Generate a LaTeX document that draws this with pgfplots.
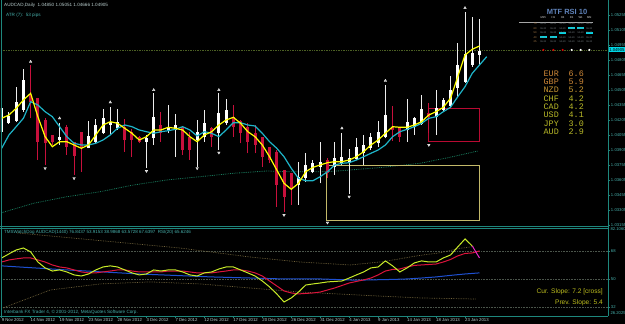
\documentclass[border=0pt]{standalone}
\usepackage{fontspec}
\setmainfont{Liberation Sans}
\setmonofont{Liberation Mono}
\usepackage{pgfplots}
\pgfplotsset{compat=1.18}
\usepackage{pgfplotstable}
\newcommand\fs[1]{\fontsize{#1}{#1}\selectfont}
\definecolor{mtteal}{RGB}{30,135,125}
\definecolor{tlabel}{RGB}{70,175,170}
\definecolor{dlabel}{RGB}{185,205,205}
\definecolor{crim}{RGB}{200,16,60}
\definecolor{maY}{RGB}{255,255,0}
\definecolor{maC}{RGB}{30,180,200}
\definecolor{maG}{RGB}{25,125,95}
\definecolor{bidline}{RGB}{75,95,35}
\definecolor{rectR}{RGB}{185,10,50}
\definecolor{rectY}{RGB}{195,185,105}
\definecolor{oscY}{RGB}{200,235,40}
\definecolor{oscR}{RGB}{220,20,60}
\definecolor{oscB}{RGB}{30,80,210}
\definecolor{oscM}{RGB}{230,40,200}
\definecolor{band}{RGB}{115,100,60}
\definecolor{lvl}{RGB}{75,85,75}
\definecolor{slope}{RGB}{190,190,30}
\definecolor{rsiT}{RGB}{95,130,185}
\definecolor{cyhl}{RGB}{0,215,230}
\definecolor{cellT}{RGB}{120,130,135}
\definecolor{curO}{RGB}{205,135,55}
\definecolor{curY}{RGB}{185,185,40}
\definecolor{fract}{RGB}{190,190,190}

\pgfplotstableread{
i o h l c
1 1.04088 1.04422 1.04072 1.04322
2 1.04172 1.04288 1.04165 1.04245
3 1.04198 1.04532 1.04188 1.04388
4 1.04305 1.04712 1.04288 1.04605
9 1.04005 1.04172 1.03955 1.04038
13 1.03922 1.04198 1.03922 1.04045
14 1.03988 1.04212 1.03978 1.04155
15 1.04072 1.04315 1.04065 1.04222
16 1.04155 1.04332 1.04055 1.04188
17 1.04122 1.04312 1.04105 1.04188
21 1.03988 1.04055 1.03722 1.04022
22 1.04022 1.04472 1.03955 1.04238
24 1.04105 1.04355 1.04072 1.04138
25 1.04105 1.04262 1.03838 1.04155
28 1.04005 1.04205 1.03738 1.04088
29 1.04038 1.04305 1.03988 1.04172
31 1.04072 1.04472 1.03905 1.04272
32 1.04172 1.04412 1.04155 1.04305
42 1.03555 1.03788 1.03355 1.03638
43 1.03622 1.03872 1.03588 1.03755
44 1.03688 1.03805 1.03672 1.03772
45 1.03738 1.03988 1.03572 1.03788
47 1.03738 1.03988 1.03655 1.03822
48 1.03772 1.04078 1.03755 1.03838
49 1.03788 1.03912 1.03465 1.03822
50 1.03812 1.04028 1.03805 1.03938
51 1.03872 1.04055 1.03755 1.03955
52 1.03922 1.04078 1.03905 1.04032
53 1.03972 1.04198 1.03938 1.04088
54 1.04032 1.04555 1.04022 1.04255
57 1.04105 1.04412 1.03988 1.04188
58 1.04138 1.04238 1.04055 1.04228
59 1.04165 1.04455 1.04155 1.04312
61 1.04232 1.04505 1.04055 1.04322
62 1.04305 1.04422 1.04288 1.04405
63 1.04345 1.04645 1.04322 1.04505
64 1.04522 1.04978 1.04422 1.04755
65 1.04588 1.05285 1.04578 1.04865
66 1.04755 1.05235 1.04738 1.04872
67 1.04855 1.05215 1.04755 1.04898
}\upTab

\pgfplotstableread{
i o h l c
5 1.04455 1.04755 1.04222 1.04388
6 1.04422 1.04422 1.03805 1.03988
7 1.04205 1.04222 1.03755 1.03972
8 1.04055 1.04055 1.03955 1.03988
10 1.04138 1.04155 1.03855 1.03938
11 1.03988 1.03988 1.03655 1.03845
12 1.04088 1.04088 1.03688 1.03922
18 1.04138 1.04212 1.03888 1.04005
19 1.04088 1.04112 1.03838 1.04005
20 1.04038 1.04045 1.03972 1.03988
23 1.04155 1.04288 1.03988 1.04072
26 1.04138 1.04138 1.03855 1.03905
27 1.04038 1.04088 1.03805 1.03905
30 1.04122 1.04138 1.03938 1.04038
33 1.04238 1.04355 1.04038 1.04138
34 1.04198 1.04205 1.03972 1.04072
35 1.04138 1.04172 1.03872 1.03988
36 1.04072 1.04155 1.03872 1.03955
37 1.04038 1.04038 1.03738 1.03838
38 1.03938 1.03938 1.03772 1.03805
39 1.03888 1.03905 1.03338 1.03555
40 1.03705 1.03705 1.03288 1.03438
41 1.03672 1.03672 1.03355 1.03522
46 1.03805 1.03822 1.03622 1.03672
55 1.04138 1.04345 1.03995 1.04105
56 1.04122 1.04122 1.03988 1.04038
60 1.04272 1.04378 1.04072 1.04232
}\downTab

\begin{document}
\begin{tikzpicture}
\fill[black] (0,0) rectangle (625pt,324pt);
\useasboundingbox (0,0) rectangle (625pt,324pt);

% ---------------- main price pane ----------------
\begin{axis}[
  at={(1pt,98pt)}, anchor=south west, scale only axis,
  width=607pt, height=225pt,
  xmin=0.907, xmax=84.75, ymin=1.03145, ymax=1.05395,
  axis line style={draw=none},
  xtick=\empty,
  ytick={1.05255,1.05105,1.04955,1.04805,1.04655,1.04505,1.04355,1.04205,1.04055,1.03905,1.03755,1.03605,1.03455,1.03305,1.03155},
  yticklabels={1.05255,1.05105,1.04955,1.04805,1.04655,1.04505,1.04355,1.04205,1.04055,1.03905,1.03755,1.03605,1.03455,1.03305,1.03155},
  ytick pos=right, yticklabel pos=right, tick align=outside,
  major tick length=2pt,
  tick style={mtteal, line width=0.6pt},
  yticklabel style={font=\fs{4.2}, text=tlabel, inner sep=0.8pt},
]
% bid line
\addplot[bidline, densely dotted, line width=0.7pt] coordinates {(0.907,1.04905) (84.75,1.04905)};
% slow MA (dotted green)
\addplot[maG, densely dotted, line width=0.8pt] coordinates {
(1,1.03278) (5.4,1.03372) (10,1.03438) (14.6,1.03488) (19.2,1.03555) (23.8,1.03605)
(28.4,1.03638) (33,1.03672) (37.6,1.03695) (40.8,1.03688) (45,1.03688) (46.8,1.03692)
(49.1,1.03705) (53.7,1.03732) (58.8,1.03772) (62.9,1.03832) (66.8,1.03895)};
% rectangles
\addplot[rectY, line width=0.8pt] coordinates {(45.9,1.03755) (67,1.03755) (67,1.03198) (45.9,1.03198) (45.9,1.03755)};
\addplot[rectR, line width=0.8pt] coordinates {(59.9,1.04322) (67,1.04322) (67,1.03995) (59.9,1.03995) (59.9,1.04322)};
% up candles: wick and body
\addplot[draw=none, mark=none, error bars/.cd, y dir=plus, y explicit, error mark=none,
  error bar style={draw=white!85!gray, line width=1pt}]
  table[x=i, y=l, y error expr=\thisrow{h}-\thisrow{l}] \upTab;
\addplot[draw=none, mark=none, error bars/.cd, y dir=plus, y explicit, error mark=none,
  error bar style={draw=white, line width=3pt}]
  table[x=i, y=o, y error expr=\thisrow{c}-\thisrow{o}] \upTab;
% down candles
\addplot[draw=none, mark=none, error bars/.cd, y dir=plus, y explicit, error mark=none,
  error bar style={draw=crim, line width=1pt}]
  table[x=i, y=l, y error expr=\thisrow{h}-\thisrow{l}] \downTab;
\addplot[draw=none, mark=none, error bars/.cd, y dir=plus, y explicit, error mark=none,
  error bar style={draw=crim, line width=3pt}]
  table[x=i, y=c, y error expr=\thisrow{o}-\thisrow{c}] \downTab;
% cyan MA
\addplot[maC, line width=1.2pt] coordinates {
(1,1.03922) (2,1.04055) (3,1.04138) (4,1.04222) (5,1.04388) (6,1.04355) (7,1.04288) (8,1.04238)
(9,1.04138) (10,1.04038) (11,1.03972) (12,1.03955) (13,1.03955) (14,1.03972) (15,1.04005) (16,1.04055)
(17,1.04122) (18,1.04155) (19,1.04138) (20,1.04105) (21,1.04088) (22,1.04072) (23,1.04088) (24,1.04098)
(25,1.04112) (26,1.04138) (27,1.04105) (28,1.04045) (29,1.04088) (30,1.04072) (31,1.04038) (32,1.04105)
(33,1.04178) (34,1.04178) (35,1.04155) (36,1.04145) (37,1.04072) (38,1.03988) (39,1.03922) (40,1.03838)
(41,1.03722) (42,1.03622) (43,1.03598) (44,1.03598) (45,1.03638) (46,1.03688) (47,1.03755) (48,1.03772)
(49,1.03778) (50,1.03805) (51,1.03838) (52,1.03872) (53,1.03905) (54,1.03955) (55,1.04038) (56,1.04088)
(57,1.04112) (58,1.04138) (59,1.04172) (60,1.04222) (61,1.04238) (62,1.04288) (63,1.04332) (64,1.04438)
(65,1.04538) (66,1.04672) (67,1.04755) (68,1.04838)};
% yellow MA
\addplot[maY, line width=1.2pt] coordinates {
(1,1.04222) (2,1.04255) (3,1.04322) (4,1.04405) (5,1.04472) (6,1.04238) (7,1.04038) (8,1.03938)
(9,1.03988) (10,1.03988) (11,1.03955) (12,1.03922) (13,1.03955) (14,1.04055) (15,1.04155) (16,1.04188)
(17,1.04172) (18,1.04122) (19,1.04072) (20,1.04005) (21,1.04038) (22,1.04105) (23,1.04105) (24,1.04132)
(25,1.04122) (26,1.04105) (27,1.04038) (28,1.03988) (29,1.04055) (30,1.04088) (31,1.04155) (32,1.04205)
(33,1.04232) (34,1.04172) (35,1.04088) (36,1.04038) (37,1.03955) (38,1.03838) (39,1.03705) (40,1.03572)
(41,1.03512) (42,1.03572) (43,1.03688) (44,1.03732) (45,1.03755) (46,1.03778) (47,1.03788) (48,1.03788)
(49,1.03805) (50,1.03838) (51,1.03888) (52,1.03955) (53,1.04005) (54,1.04072) (55,1.04138) (56,1.04132)
(57,1.04132) (58,1.04155) (59,1.04188) (60,1.04255) (61,1.04288) (62,1.04332) (63,1.04422) (64,1.04638)
(65,1.04855) (66,1.04912) (67,1.04945)};
% fractals
\addplot[only marks, mark=triangle*, mark size=1.5pt, mark options={fill=fract, draw=white, line width=0.3pt}]
 coordinates {(5,1.04788) (9,1.04222) (16,1.04382) (22,1.04505) (31,1.04505) (48,1.04122) (54,1.04598) (65,1.05325)};
\addplot[only marks, mark=triangle*, mark size=1.5pt, mark options={fill=fract, draw=white, line width=0.3pt, rotate=180}]
 coordinates {(7,1.03722) (11,1.03622) (21,1.03695) (28,1.03722) (31,1.03878) (40,1.03255) (46,1.03178) (49,1.03438) (60,1.03955)};
\end{axis}

% ---------------- oscillator pane ----------------
\begin{axis}[
  at={(1pt,8pt)}, anchor=south west, scale only axis,
  width=607pt, height=87pt,
  xmin=0.907, xmax=84.75, ymin=26.2, ymax=82.1,
  axis line style={draw=none},
  xtick={1,5,9,13,17,21,25,29,33,37,41,45,49,53,57,61,65},
  xticklabels={9 Nov 2012,14 Nov 2012,19 Nov 2012,23 Nov 2012,28 Nov 2012,3 Dec 2012,7 Dec 2012,12 Dec 2012,17 Dec 2012,20 Dec 2012,26 Dec 2012,31 Dec 2012,4 Jan 2013,9 Jan 2013,14 Jan 2013,18 Jan 2013,23 Jan 2013},
  xtick pos=left, ytick pos=right, yticklabel pos=right,
  tick align=outside, major tick length=2pt,
  tick style={mtteal, line width=0.6pt},
  xticklabel style={font=\fs{4.3}, text=dlabel, anchor=north west, inner sep=0.5pt, xshift=-0.6pt, yshift=0.6pt},
  ytick={32,50,68}, yticklabels={32,50,68},
  yticklabel style={font=\fs{4.2}, text=tlabel, inner sep=0.8pt},
]
\addplot[lvl, densely dotted, line width=0.6pt] coordinates {(0.907,68) (84.75,68)};
\addplot[lvl, densely dotted, line width=0.6pt] coordinates {(0.907,50) (84.75,50)};
\addplot[lvl, densely dotted, line width=0.6pt] coordinates {(0.907,32) (84.75,32)};
% bands
\addplot[band, densely dotted, line width=0.7pt] coordinates {
(3.1,79.6) (25.6,69.9) (35.3,64.1) (42.2,60.9) (49.1,59.0) (53.7,61.1) (58.3,64.8) (61.6,66.9) (64.3,69.7) (66.2,70.8)};
\addplot[band, densely dotted, line width=0.7pt] coordinates {
(1.2,31.4) (7.7,42.9) (14.6,46.8) (21.5,48.1) (28.4,46.8) (35.3,44.2) (42.2,41.6) (52.8,39.1) (58.8,37.8) (66.6,37.1)};
% blue
\addplot[oscB, line width=1pt] coordinates {
(1,58.4) (10,55.8) (20,53.2) (30,51.3) (40,50.0) (45,50.0) (50,49.2) (55,49.7) (57,50.0) (59,50.6) (61,51.3) (63,52.3) (65,53.2) (67,53.9)};
% red
\addplot[oscR, line width=1pt] coordinates {
(1,60.9) (2,62.2) (3,62.9) (4,63.5) (5,63.5) (6,62.2) (7,60.9) (8,59.0) (9,57.7) (10,57.1)
(11,55.8) (12,54.5) (13,53.9) (14,53.9) (15,54.5) (16,55.1) (17,55.8) (18,55.8) (19,55.1) (20,54.5)
(21,54.5) (22,54.5) (23,54.5) (24,55.1) (25,55.1) (26,55.1) (27,54.5) (28,53.9) (29,53.9) (30,53.9)
(31,54.5) (32,55.1) (33,55.8) (34,55.8) (35,55.1) (36,53.9) (37,51.9) (38,48.7) (39,45.5) (40,42.3)
(41,41.0) (42,40.4) (43,40.7) (44,41.0) (45,41.6) (46,42.9) (47,44.2) (48,45.8) (49,47.4) (50,48.4)
(51,49.4) (52,50.6) (53,52.6) (54,55.1) (55,56.1) (56,56.4) (57,57.7) (58,58.7) (59,59.0) (60,59.3)
(61,59.6) (62,60.9) (63,62.5) (64,64.8) (65,66.4) (66,66.7) (67,68.0)};
% yellow
\addplot[oscY, line width=1pt] coordinates {
(1,63.5) (2,66.1) (3,68.6) (4,69.9) (5,67.4) (6,60.9) (7,57.1) (8,55.1) (9,55.8) (10,54.5)
(11,52.6) (12,51.9) (13,53.2) (14,55.8) (15,57.7) (16,58.4) (17,57.7) (18,55.8) (19,53.9) (20,52.6)
(21,53.2) (22,55.8) (23,55.1) (24,55.8) (25,55.8) (26,54.5) (27,52.6) (28,51.9) (29,53.9) (30,54.5)
(31,56.4) (32,57.7) (33,57.7) (34,55.8) (35,53.9) (36,51.9) (37,48.7) (38,44.9) (39,40.4) (40,35.2)
(41,37.8) (42,41.6) (43,46.1) (44,46.8) (45,47.4) (46,48.1) (47,48.4) (48,48.7) (49,50.6) (50,52.6)
(51,54.5) (52,57.1) (53,57.7) (54,61.6) (55,58.4) (56,54.5) (57,57.1) (58,60.3) (59,61.6) (60,60.9)
(61,60.9) (62,63.5) (63,65.4) (64,70.6) (65,75.7) (66,71.2)};
\addplot[oscM, line width=1pt] coordinates {(66,71.2) (67,63.5)};
\end{axis}

% ---------------- frames ----------------
\draw[mtteal, line width=0.9pt] (1.2pt,324pt) -- (1.2pt,8pt);
\draw[mtteal, line width=0.9pt] (608pt,324pt) -- (608pt,8pt);
\draw[mtteal, line width=0.9pt] (0pt,8pt) -- (608pt,8pt);
\draw[mtteal, line width=0.8pt] (0pt,97.5pt) -- (608pt,97.5pt);
\draw[mtteal, line width=0.8pt] (0pt,95.3pt) -- (608pt,95.3pt);

% current price tag
\node[fill=cyhl, text=black, font=\fs{4.2}, inner sep=0.6pt, anchor=west, minimum height=5pt] at (608.5pt,274pt) {1.04905};

% ---------------- texts ----------------
\node[anchor=west, font=\fs{4.6}, text=dlabel, inner sep=0] at (4pt,319pt) {AUDCAD,Daily\ \ 1.04850 1.05051 1.04666 1.04905};
\node[anchor=west, font=\fs{4.6}, text=tlabel, inner sep=0] at (6pt,309pt) {ATR (7):\ \ 53 pips};
\node[anchor=west, font=\fs{4.5}, text=tlabel, inner sep=0] at (4pt,92pt) {TMSWatchDog AUDCAD(1440) 76.8437 53.9153 38.9868 63.5728 67.6397\ \ RSI(20) 65.6246};
\node[anchor=west, font=\fs{4.6}, text=tlabel, inner sep=0] at (4pt,11.5pt) {Interbank FX Trader 4, © 2001-2012, MetaQuotes Software Corp.};
\node[anchor=east, font=\fs{6.6}, text=slope, inner sep=0] at (603pt,32pt) {Cur. Slope: 7.2 [cross]};
\node[anchor=east, font=\fs{6.6}, text=slope, inner sep=0] at (603pt,21pt) {Prev. Slope: 5.4};
\node[anchor=west, font=\fs{4.2}, text=tlabel, inner sep=0.8pt] at (609.5pt,95pt) {82.1060};
\node[anchor=west, font=\fs{4.2}, text=tlabel, inner sep=0.8pt] at (609.5pt,11pt) {26.2025};

% ---------------- MTF RSI panel ----------------
\node[font=\fs{7.5}\bfseries, text=rsiT, inner sep=0] at (567pt,312pt) {MTF RSI 10};
\draw[gray!70, line width=0.5pt] (519pt,302pt) -- (593pt,302pt);
\foreach \cx/\lab in {543.3/M15,553.3/H1,562.7/H4,571.7/D1,580.7/W1,589.3/MN}
  \node[font=\fs{2.8}, text=white!75!gray, inner sep=0] at (\cx pt,306pt) {\lab};
\fill[cyhl] (568pt,294.7pt) rectangle (575.4pt,296.9pt);
\fill[cyhl] (577pt,294.7pt) rectangle (584.4pt,296.9pt);
\fill[cyhl] (559pt,290.2pt) rectangle (566.4pt,292.4pt);
\fill[cyhl] (585.6pt,290.2pt) rectangle (593pt,292.4pt);
\fill[cyhl] (539.6pt,285.6pt) rectangle (547pt,287.8pt);
\fill[cyhl] (549.6pt,285.6pt) rectangle (557pt,287.8pt);
\foreach \ry/\rl in {300/75,295.7/60,291.3/50,286.7/40,282.3/25} {
  \node[font=\fs{2.6}, text=curO!70!gray, inner sep=0] at (535pt,\ry pt) {\rl};
  \foreach \cx in {543.3,553.3,562.7,571.7,580.7,589.3}
    \node[font=\fs{2.4}, text=cellT, inner sep=0] at (\cx pt,\ry pt) {55.20};
}
\foreach \cx in {543.3,553.3,562.7} \fill[red!85!black] (\cx pt,274pt) circle (1.2pt);
\foreach \cx in {571.7,580.7,589.3} \fill[white] (\cx pt,274pt) circle (1.2pt);

% ---------------- currency strength ----------------
\foreach \ry/\cur/\val/\col in {250.7/EUR/6.6/curO, 242.3/GBP/5.9/curO, 234/NZD/5.2/curO!70!curY, 225.7/CHF/4.2/curY, 217.3/CAD/4.2/curY, 209/USD/4.1/curY, 200.7/JPY/3.0/curY, 192.3/AUD/2.9/curY} {
  \node[anchor=west, font=\ttfamily\fs{8.4}, text=\col, inner sep=0] at (543.5pt,\ry pt) {\cur};
  \node[anchor=west, font=\ttfamily\fs{8.4}, text=\col, inner sep=0] at (568.5pt,\ry pt) {\val};
}
\end{tikzpicture}
\end{document}
